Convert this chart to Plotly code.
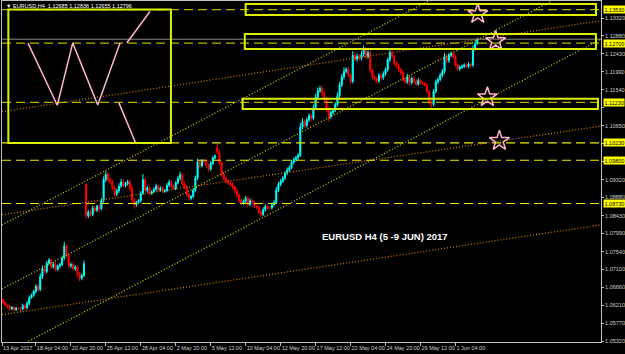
import plotly.graph_objects as go

# ---------------- data (EURUSD H4, 13 Apr 2017 12:00 .. 2 Jun 2017 20:00) ----------------
closes = [
    1.0635, 1.0628, 1.0622,
    1.0618, 1.0612, 1.0616, 1.0610, 1.0614, 1.0613,
    1.0612, 1.0620, 1.0615, 1.0626, 1.0640, 1.0646,
    1.0655, 1.0668, 1.0660, 1.0692, 1.0712, 1.0705,
    1.0725, 1.0733, 1.0716, 1.0722, 1.0710, 1.0718,
    1.0722, 1.0738, 1.0768, 1.0745, 1.0718, 1.0722,
    1.0712, 1.0716, 1.0698, 1.0688, 1.0695, 1.0724,
    1.0842, 1.0852, 1.0846, 1.0862, 1.0856, 1.0866,
    1.0860, 1.0880, 1.0932, 1.0945, 1.0932, 1.0926,
    1.0912, 1.0896, 1.0904, 1.0916, 1.0926, 1.0918,
    1.0922, 1.0926, 1.0910, 1.0882, 1.0870, 1.0876,
    1.0880, 1.0898, 1.0932, 1.0906, 1.0912, 1.0898,
    1.0902, 1.0908, 1.0916, 1.0906, 1.0912, 1.0903,
    1.0905, 1.0918, 1.0926, 1.0916, 1.0910, 1.0924,
    1.0935, 1.0944, 1.0922, 1.0914, 1.0896, 1.0886,
    1.0890, 1.0906, 1.0936, 1.0976, 1.0966, 1.0978,
    1.0976, 1.0968, 1.0958, 1.0972, 1.0986, 1.0990,
    1.1000, 1.0974, 1.0946, 1.0935, 1.0928, 1.0924,
    1.0920, 1.0914, 1.0904, 1.0894, 1.0880, 1.0874,
    1.0878, 1.0886, 1.0870, 1.0880, 1.0875, 1.0866,
    1.0864, 1.0852, 1.0846, 1.0858, 1.0866, 1.0862,
    1.0862, 1.0870, 1.0876, 1.0906, 1.0920, 1.0928,
    1.0936, 1.0948, 1.0956, 1.0962, 1.0975, 1.0982,
    1.0986, 1.0992, 1.1062, 1.1076, 1.1066, 1.1080,
    1.1090, 1.1084, 1.1110, 1.1136, 1.1152, 1.1158,
    1.1145, 1.1130, 1.1108, 1.1088, 1.1098, 1.1104,
    1.1118, 1.1140, 1.1166, 1.1186, 1.1200, 1.1205,
    1.1190, 1.1175, 1.1240, 1.1230, 1.1238, 1.1232,
    1.1242, 1.1254, 1.1236, 1.1246, 1.1202, 1.1186,
    1.1182, 1.1176, 1.1190, 1.1184, 1.1194, 1.1204,
    1.1228, 1.1246, 1.1238, 1.1220, 1.1214, 1.1204,
    1.1196, 1.1180, 1.1174, 1.1186, 1.1172, 1.1182,
    1.1176, 1.1168, 1.1178, 1.1172, 1.1170, 1.1166,
    1.1150, 1.1124, 1.1118, 1.1150, 1.1174, 1.1180,
    1.1190, 1.1200, 1.1236, 1.1226, 1.1240, 1.1244,
    1.1236, 1.1216, 1.1206, 1.1210, 1.1212, 1.1216,
    1.1212, 1.1218, 1.1215, 1.1256, 1.12685, 1.12796,
]
# upper / lower shadows in pips
wick_up = [
    5, 4, 3,
    3, 4, 3, 4, 3, 2,
    4, 5, 4, 6, 5, 4,
    4, 5, 6, 8, 8, 5,
    6, 5, 4, 6, 5, 4,
    4, 6, 10, 5, 4, 5,
    5, 5, 4, 6, 5, 8,
    3, 5, 4, 6, 5, 4,
    5, 6, 8, 8, 5, 5,
    6, 5, 6, 7, 8, 6,
    5, 6, 6, 8, 5, 4,
    4, 6, 14, 6, 5, 4,
    4, 5, 6, 4, 4, 3,
    4, 6, 6, 5, 4, 5,
    6, 8, 5, 5, 4, 4,
    4, 5, 6, 8, 5, 5,
    6, 5, 4, 6, 5, 5,
    8, 5, 4, 4, 5, 4,
    5, 6, 5, 6, 4, 4,
    5, 6, 5, 6, 4, 5,
    4, 5, 4, 6, 5, 4,
    4, 5, 5, 8, 6, 5,
    5, 5, 6, 5, 6, 5,
    5, 6, 10, 8, 6, 6,
    6, 5, 8, 8, 8, 6,
    8, 6, 6, 5, 5, 5,
    6, 8, 8, 8, 10, 5,
    6, 5, 10, 8, 6, 5,
    8, 10, 6, 6, 5, 4,
    5, 5, 6, 5, 6, 6,
    6, 8, 6, 5, 5, 5,
    5, 6, 5, 8, 5, 5,
    5, 5, 6, 4, 4, 4,
    4, 5, 5, 6, 6, 5,
    6, 6, 10, 6, 6, 5,
    5, 5, 4, 5, 5, 4,
    4, 5, 4, 8, 6, 4,
]
wick_dn = [
    4, 5, 3,
    4, 5, 3, 4, 3, 3,
    8, 4, 5, 4, 5, 3,
    4, 5, 5, 4, 6, 6,
    5, 5, 6, 4, 5, 4,
    5, 4, 5, 6, 6, 5,
    5, 6, 8, 7, 5, 4,
    8, 5, 6, 4, 5, 4,
    6, 4, 5, 6, 6, 5,
    5, 6, 5, 5, 4, 5,
    5, 5, 6, 8, 10, 5,
    4, 5, 4, 5, 6, 5,
    4, 4, 5, 4, 4, 4,
    4, 4, 5, 5, 4, 4,
    4, 5, 6, 5, 6, 6,
    5, 4, 5, 5, 6, 4,
    5, 6, 6, 5, 4, 4,
    5, 6, 6, 6, 5, 5,
    5, 5, 6, 8, 6, 5,
    5, 4, 6, 4, 5, 5,
    5, 6, 6, 4, 5, 4,
    4, 4, 5, 4, 5, 4,
    4, 5, 5, 5, 4, 5,
    6, 5, 4, 6, 6, 5,
    5, 8, 5, 6, 6, 5,
    6, 6, 8, 12, 6, 5,
    5, 5, 6, 5, 6, 5,
    5, 6, 5, 6, 6, 5,
    5, 6, 6, 5, 6, 6,
    6, 6, 5, 6, 5, 5,
    5, 5, 6, 6, 6, 6,
    6, 6, 6, 5, 8, 5,
    5, 5, 4, 5, 4, 4,
    5, 6, 8, 5, 5, 5,
    5, 5, 5, 6, 5, 5,
    5, 6, 5, 5, 4, 4,
    4, 4, 5, 4, 5, 3,
]
first_open = 1.0642
gap_opens = {39: 1.0920, 99: 1.1012}   # weekend gaps

x_tick_pos = [0.5, 16, 32, 48, 64, 80, 96, 112, 128, 144, 160, 176, 192, 208]
x_tick_text = ["13 Apr 2017", "18 Apr 04:00", "20 Apr 20:00", "25 Apr 12:00", "28 Apr 04:00",
               "2 May 20:00", "5 May 12:00", "10 May 04:00", "12 May 20:00", "17 May 12:00",
               "22 May 04:00", "24 May 20:00", "29 May 12:00", "1 Jun 04:00"]
y_ticks = [1.13320, 1.12880, 1.12430, 1.11990, 1.11540, 1.11100, 1.10650, 1.10210, 1.09770,
           1.09320, 1.08880, 1.08430, 1.07990, 1.07540, 1.07100, 1.06660, 1.06210, 1.05770, 1.05320]
y_ticks_hidden = [1.11100, 1.10210, 1.09770]   # covered by the level labels

level_box = [1.13530, 1.12700, 1.11230]
level_plain = [1.10230, 1.09800, 1.08730]
bid = 1.12796

# trend lines: (price at left edge, price at right edge)
yellow_trends = [(1.08199, 1.15980), (1.06615, 1.14382), (1.04973, 1.12798)]
orange_trends = [(1.11001, 1.13254), (1.08452, 1.10646), (1.05978, 1.08201)]

# W pattern drawing (bar index, price)
w_x = [12.4, 25.8, 32.85, 44.3, 54.5, None, 57.6, 68.2, None, 54.0, 61.7]
w_y = [1.1270, 1.1116, 1.1270, 1.1117, 1.1270, None, 1.1270, 1.1348, None, 1.1122, 1.1022]
star_x = [218.2, 226.4, 222.6, 228.1]
star_y = [1.1342, 1.1275, 1.1136, 1.1028]

# ---------------- build candles ----------------
n = len(closes)
xs = list(range(n))
opens, highs, lows = [], [], []
for i in range(n):
    o = first_open if i == 0 else gap_opens.get(i, closes[i - 1])
    c = closes[i]
    opens.append(o)
    highs.append(max(o, c) + wick_up[i] * 1e-4)
    lows.append(min(o, c) - wick_dn[i] * 1e-4)

X0, X1 = 0.5, 274.6
Y0, Y1 = 1.05302, 1.13741
FONT = "Liberation Sans, Arial, sans-serif"

fig = go.Figure()

for a, b in orange_trends:
    fig.add_trace(go.Scatter(x=[X0, X1], y=[a, b], mode="lines",
                             line=dict(color="#d07a00", width=1.3, dash="1px,2px"),
                             hoverinfo="skip", showlegend=False))
for a, b in yellow_trends:
    fig.add_trace(go.Scatter(x=[X0, X1], y=[a, b], mode="lines",
                             line=dict(color="#cccc00", width=1.3, dash="1px,2px"),
                             hoverinfo="skip", showlegend=False))
for lv in level_box:
    fig.add_trace(go.Scatter(x=[X0, X1], y=[lv, lv], mode="lines",
                             line=dict(color="#b4b400", width=1.2, dash="9px,5px"),
                             hoverinfo="skip", showlegend=False))
for lv in level_plain:
    fig.add_trace(go.Scatter(x=[X0, X1], y=[lv, lv], mode="lines",
                             line=dict(color="#f0f000", width=1.2, dash="9px,5px"),
                             hoverinfo="skip", showlegend=False))
fig.add_trace(go.Scatter(x=[X0, X1], y=[bid, bid], mode="lines",
                         line=dict(color="#8c8c8c", width=1),
                         hoverinfo="skip", showlegend=False))

fig.add_trace(go.Candlestick(
    x=xs, open=opens, high=highs, low=lows, close=closes,
    increasing=dict(line=dict(color="#00ffff", width=1), fillcolor="#00ffff"),
    decreasing=dict(line=dict(color="#ff0000", width=1), fillcolor="#ff0000"),
    whiskerwidth=0, showlegend=False, hoverinfo="skip"))

fig.add_trace(go.Scatter(x=w_x, y=w_y, mode="lines",
                         line=dict(color="#ffb6c8", width=1.5),
                         hoverinfo="skip", showlegend=False))
fig.add_trace(go.Scatter(x=star_x, y=star_y, mode="markers",
                         marker=dict(symbol="star-open", size=15, color="#ffb4c8",
                                     line=dict(color="#ffb4c8", width=1.5)),
                         hoverinfo="skip", showlegend=False))

# rectangles
rects = [
    (3.4, 77.8, 1.10225, 1.13530),
    (112.0, 272.3, 1.13395, 1.13665),
    (111.6, 272.3, 1.12553, 1.12924),
    (110.6, 273.2, 1.11068, 1.11323),
]
for x0, x1, y0, y1 in rects:
    fig.add_shape(type="rect", xref="x", yref="y", x0=x0, x1=x1, y0=y0, y1=y1,
                  line=dict(color="#dcf000", width=2), fillcolor="rgba(0,0,0,0)", layer="above")

annotations = [
    dict(xref="paper", yref="paper", x=0.003, y=0.985, xanchor="left", yanchor="middle",
         text="▼ EURUSD,H4  1.12685 1.12836 1.12655 1.12796", showarrow=False,
         font=dict(family=FONT, size=5.5, color="#ffffff")),
    dict(xref="x", yref="y", x=175.8, y=1.07925, text="EURUSD H4 (5 -9 JUN) 2017",
         showarrow=False, font=dict(family=FONT, size=9.5, color="#ffffff", weight="bold")),
]
for lv in level_box + level_plain:
    annotations.append(dict(xref="paper", yref="y", x=1, y=lv, xanchor="left", xshift=2,
                            text=f"{lv:.5f}", showarrow=False, bgcolor="#ffff00", borderpad=0.5,
                            font=dict(family=FONT, size=5.5, color="#000000")))

fig.update_layout(
    width=625, height=354,
    margin=dict(l=2, r=24, t=1, b=12),
    paper_bgcolor="#000000", plot_bgcolor="#000000",
    showlegend=False,
    annotations=annotations,
    xaxis=dict(range=[X0, X1], showgrid=False, zeroline=False, automargin=False,
               rangeslider=dict(visible=False),
               tickmode="array", tickvals=x_tick_pos, ticktext=x_tick_text, tickangle=0,
               ticks="outside", ticklen=3, tickcolor="#c0c0c0",
               ticklabelposition="outside right",
               tickfont=dict(family=FONT, size=5.5, color="#d0d0d0"),
               showline=True, linecolor="#c0c0c0", linewidth=1, mirror=True),
    yaxis=dict(range=[Y0, Y1], side="right", showgrid=False, zeroline=False, automargin=False,
               tickmode="array", tickvals=y_ticks,
               ticktext=["" if v in y_ticks_hidden else f"{v:.5f}" for v in y_ticks],
               ticks="outside", ticklen=2, tickcolor="#c0c0c0",
               tickfont=dict(family=FONT, size=5.5, color="#d0d0d0"),
               showline=True, linecolor="#c0c0c0", linewidth=1, mirror=True),
)

fig.write_html("out.html")
